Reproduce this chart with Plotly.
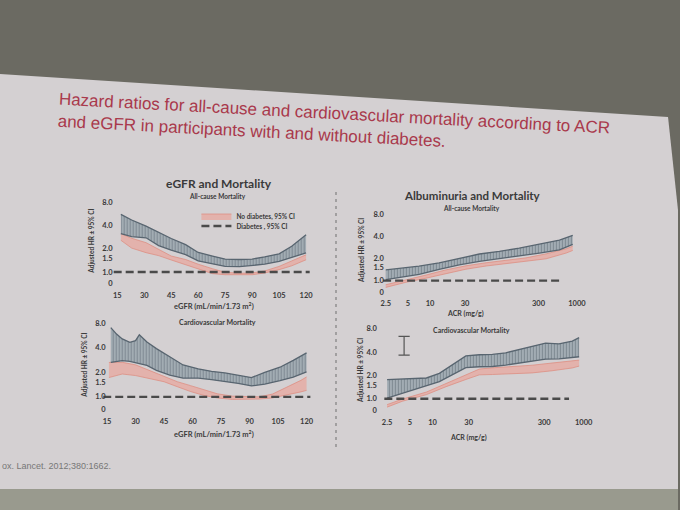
import math
import plotly.graph_objects as go

W, H = 680, 510

# ---- eGFR vs all-cause mortality (HR and 95% CI bounds)
egfr_all = [17, 23, 31, 38, 45, 53, 60, 68, 75, 83, 90, 97, 105, 112, 120]
diab_all_lo = [3.14, 2.88, 2.78, 2.2, 1.92, 1.68, 1.39, 1.28, 1.18, 1.17, 1.21, 1.26, 1.37, 1.53, 1.77]
diab_all_hi = [5.6, 4.73, 3.93, 3.26, 2.72, 2.26, 1.79, 1.61, 1.47, 1.45, 1.47, 1.57, 1.72, 2.16, 3.05]
nodiab_all_lo = [2.58, 2.04, 1.78, 1.63, 1.43, 1.25, 1.09, 0.95, 0.92, 0.91, 0.92, 0.97, 1.07, 1.2, 1.44]
nodiab_all_hi = [3.14, 2.74, 2.4, 1.99, 1.61, 1.45, 1.26, 1.1, 0.99, 0.96, 0.97, 1.03, 1.18, 1.39, 1.67]

# ---- eGFR vs cardiovascular mortality
egfr_cv_diab = [17, 20, 23, 27, 30, 32, 36, 41, 48, 55, 63, 70, 77, 84, 91, 98, 106, 113, 120]
diab_cv_lo = [2.63, 2.69, 2.77, 2.72, 2.62, 2.58, 2.42, 2.11, 1.84, 1.69, 1.69, 1.62, 1.55, 1.46, 1.36, 1.43, 1.58, 1.74, 2.02]
diab_cv_hi = [7.0, 5.85, 5.1, 4.64, 4.86, 5.73, 4.67, 3.88, 3.09, 2.45, 2.2, 2.05, 1.96, 1.85, 1.72, 1.99, 2.3, 2.79, 3.44]
egfr_cv_nodiab = [16, 23, 30, 37, 45, 52, 59, 66, 73, 81, 88, 95, 102, 109, 117, 120]
nodiab_cv_lo = [1.72, 1.9, 1.82, 1.67, 1.53, 1.33, 1.16, 1.04, 0.97, 0.93, 0.93, 0.94, 0.97, 1.04, 1.15, 1.2]
nodiab_cv_hi = [2.63, 2.64, 2.46, 2.11, 1.76, 1.53, 1.37, 1.22, 1.09, 1.02, 1.0, 1.0, 1.08, 1.29, 1.59, 1.75]

# ---- ACR vs all-cause mortality
acr_all_diab = [2.5, 3.8, 7.1, 13.3, 25, 47, 88, 164, 308, 578, 877]
diab_acr_all_lo = [1.03, 1.1, 1.22, 1.42, 1.64, 1.83, 1.97, 2.17, 2.37, 2.61, 3.1]
diab_acr_all_hi = [1.4, 1.47, 1.57, 1.74, 2.02, 2.3, 2.5, 2.76, 3.13, 3.55, 4.13]
acr_all_nodiab = [2.5, 4.7, 8.8, 16.4, 30.8, 57.8, 108, 203, 380, 713, 877]
nodiab_acr_all_lo = [0.81, 0.95, 1.08, 1.25, 1.43, 1.58, 1.7, 1.84, 1.98, 2.37, 2.57]
nodiab_acr_all_hi = [0.88, 1.02, 1.19, 1.4, 1.59, 1.75, 1.89, 2.04, 2.31, 2.71, 2.94]

# ---- ACR vs cardiovascular mortality
acr_cv_diab = [2.5, 3.6, 5.5, 8.3, 12.3, 18.4, 27.6, 41.6, 62, 93, 140, 209, 313, 470, 707, 870]
diab_acr_cv_lo = [1.02, 1.14, 1.31, 1.49, 1.66, 2.04, 2.51, 2.58, 2.6, 2.71, 2.87, 3.04, 3.23, 3.26, 3.35, 3.47]
diab_acr_cv_hi = [1.76, 1.78, 1.8, 1.85, 2.12, 2.74, 3.55, 3.68, 3.72, 3.9, 4.27, 4.75, 5.2, 5.09, 5.5, 6.1]
acr_cv_nodiab = [2.5, 4.0, 8.3, 15.1, 27.6, 41.6, 62, 115, 209, 380, 707, 870]
nodiab_acr_cv_lo = [0.78, 0.93, 1.13, 1.43, 1.77, 2.03, 2.05, 2.08, 2.15, 2.29, 2.49, 2.63]
nodiab_acr_cv_hi = [0.84, 0.99, 1.22, 1.58, 2.06, 2.41, 2.5, 2.59, 2.7, 2.88, 3.07, 3.14]

# single example CI bar drawn in the ACR / CV panel
ci_example_x = [4.2, 4.2]
ci_example_y = [3.64, 6.33]

# reference line HR = 1
ref_egfr_x = [13, 122]
ref_acr_x = [2.3, 640]
ref_y = [1, 1]

y_ticks = [0.7, 1, 1.5, 2, 4, 8]
y_tick_text = ["0", "1.0", "1.5", "2.0", "4.0", "8.0"]
egfr_ticks = [15, 30, 45, 60, 75, 90, 105, 120]
acr_ticks = [2.5, 5, 10, 30, 300, 1000]
acr_tick_text = ["2.5", "5", "10", "30", "300", "1000"]

FONT = "Lato"
DARK = "#3a3a3a"
GREY_EDGE = "#586570"
PINK_FILL = "rgba(236,158,146,0.6)"
PINK_EDGE = "rgba(222,138,126,0.9)"


def px(x):
    return x / W


def py(y):
    return 1 - y / H


def add_pink(fig, x, lo, hi, xa, ya, legend=False):
    fig.add_trace(go.Scatter(x=x, y=lo, mode="lines", xaxis=xa, yaxis=ya,
                             line=dict(color=PINK_EDGE, width=0.8),
                             showlegend=False, hoverinfo="skip"))
    fig.add_trace(go.Scatter(x=x, y=hi, mode="lines", xaxis=xa, yaxis=ya,
                             fill="tonexty", fillcolor=PINK_FILL,
                             line=dict(color=PINK_EDGE, width=0.8),
                             name="No diabetes, 95% CI", showlegend=legend,
                             legend="legend"))


def add_grey(fig, x, lo, hi, xa, ya):
    fig.add_trace(go.Scatter(x=x, y=lo, mode="lines", xaxis=xa, yaxis=ya,
                             line=dict(color=GREY_EDGE, width=1.3),
                             showlegend=False, hoverinfo="skip"))
    fig.add_trace(go.Scatter(x=x, y=hi, mode="lines", xaxis=xa, yaxis=ya,
                             fill="tonexty",
                             fillpattern=dict(shape="|", fgcolor="#55626d",
                                              bgcolor="#a9b2b9", size=3,
                                              solidity=0.45),
                             line=dict(color=GREY_EDGE, width=1.3),
                             showlegend=False))


def add_ref(fig, x, xa, ya, legend=False):
    fig.add_trace(go.Scatter(x=x, y=ref_y, mode="lines", xaxis=xa, yaxis=ya,
                             line=dict(color="#4a4a4a", width=2.4, dash="8px,4px"),
                             name="Diabetes , 95% CI", showlegend=legend,
                             legend="legend2"))


fig = go.Figure()

# top-left: eGFR all-cause
add_pink(fig, egfr_all, nodiab_all_lo, nodiab_all_hi, "x", "y", legend=True)
add_grey(fig, egfr_all, diab_all_lo, diab_all_hi, "x", "y")
add_ref(fig, ref_egfr_x, "x", "y", legend=True)

# bottom-left: eGFR cardiovascular
add_pink(fig, egfr_cv_nodiab, nodiab_cv_lo, nodiab_cv_hi, "x2", "y2")
add_grey(fig, egfr_cv_diab, diab_cv_lo, diab_cv_hi, "x2", "y2")
add_ref(fig, ref_egfr_x, "x2", "y2")

# top-right: ACR all-cause
add_pink(fig, acr_all_nodiab, nodiab_acr_all_lo, nodiab_acr_all_hi, "x3", "y3")
add_grey(fig, acr_all_diab, diab_acr_all_lo, diab_acr_all_hi, "x3", "y3")
add_ref(fig, ref_acr_x, "x3", "y3")

# bottom-right: ACR cardiovascular
add_pink(fig, acr_cv_nodiab, nodiab_acr_cv_lo, nodiab_acr_cv_hi, "x4", "y4")
add_grey(fig, acr_cv_diab, diab_acr_cv_lo, diab_acr_cv_hi, "x4", "y4")
add_ref(fig, ref_acr_x, "x4", "y4")
fig.add_trace(go.Scatter(x=ci_example_x, y=ci_example_y, mode="lines+markers",
                         xaxis="x4", yaxis="y4",
                         line=dict(color="#555", width=1.2),
                         marker=dict(symbol="line-ew", size=8,
                                     line=dict(color="#555", width=1.2)),
                         showlegend=False))

tickfont = dict(family=FONT, size=7.5, color=DARK, weight="bold")
common_x = dict(showgrid=False, zeroline=False, showline=False, ticks="",
                tickfont=tickfont)
common_y = dict(showgrid=False, zeroline=False, showline=False, ticks="",
                tickfont=tickfont, type="log", range=[math.log10(0.6), 1],
                tickvals=y_ticks, ticktext=y_tick_text, anchor="free")

fig.update_layout(
    xaxis=dict(common_x, domain=[px(105), px(316)], range=[8, 125],
               tickvals=egfr_ticks, anchor="y"),
    yaxis=dict(common_y, domain=[py(289), py(195)], position=px(113)),
    xaxis2=dict(common_x, domain=[px(94), px(317)], range=[8, 125],
                tickvals=egfr_ticks, anchor="y2"),
    yaxis2=dict(common_y, domain=[py(415), py(315)], position=px(106)),
    xaxis3=dict(common_x, domain=[px(376), px(586)], type="log",
                range=[0.25, 3.1], tickvals=acr_ticks, ticktext=acr_tick_text,
                anchor="y3"),
    yaxis3=dict(common_y, domain=[py(297), py(207)], position=px(385)),
    xaxis4=dict(common_x, domain=[px(377), px(593)], type="log",
                range=[0.25, 3.1], tickvals=acr_ticks, ticktext=acr_tick_text,
                anchor="y4"),
    yaxis4=dict(common_y, domain=[py(416), py(321)], position=px(378)),
)

# slide on a dark background (photo of a projected slide)
slide_path = "M 0 %f L %f %f L 1 %f L 1 %f L 0 %f Z" % (
    py(74), px(670), py(117), py(210), py(490), py(489))
shapes = [
    dict(type="path", xref="paper", yref="paper", layer="below",
         path=slide_path, fillcolor="#d4d0d2", line=dict(width=0)),
    dict(type="rect", xref="paper", yref="paper", layer="below",
         x0=0, x1=1, y0=0, y1=py(489), fillcolor="#999a8e", line=dict(width=0)),
    dict(type="line", xref="paper", yref="paper", x0=px(337), x1=px(337),
         y0=py(447), y1=py(190), line=dict(color="#6e6e6e", width=1, dash="3px,4px")),
]


def note(text, x, y, size, angle=0, weight="bold", color=DARK, family=FONT,
         xanchor="center"):
    return dict(text=text, x=px(x), y=py(y), xref="paper", yref="paper",
                showarrow=False, textangle=angle, xanchor=xanchor,
                yanchor="middle",
                font=dict(family=family, size=size, color=color, weight=weight))


annotations = [
    dict(text="Hazard ratios for all-cause and cardiovascular mortality according to ACR"
              "<br>and eGFR in participants with and without diabetes.",
         x=px(55), y=py(124), xref="paper", yref="paper", showarrow=False,
         xanchor="left", yanchor="middle", align="left", textangle=3.0,
         font=dict(family="Liberation Sans", size=17, color="#a9394c")),
    note("eGFR and Mortality", 220, 183, 12),
    note("All-cause Mortality", 218, 197, 6.5),
    note("Cardiovascular Mortality", 218, 322, 7),
    note("Albuminuria and Mortality", 474, 195, 11.5),
    note("All-cause Mortality", 473, 208, 6.5),
    note("Cardiovascular Mortality", 473, 330, 7),
    note("eGFR (mL/min/1.73 m<sup>2</sup>)", 215, 306, 7.5),
    note("eGFR (mL/min/1.73 m<sup>2</sup>)", 215, 434, 7.5),
    note("ACR (mg/g)", 467, 313, 7),
    note("ACR (mg/g)", 470, 437, 7),
    note("Adjusted HR ± 95% CI", 91, 241, 6.5, angle=-90),
    note("Adjusted HR ± 95% CI", 84, 365, 6.5, angle=-90),
    note("Adjusted HR ± 95% CI", 362, 250, 6.5, angle=-90),
    note("Adjusted HR ± 95% CI", 361, 370, 6.5, angle=-90),
    note("ox. Lancet. 2012;380:1662.", 0, 466, 9, weight="normal",
         color="#777777", family="Liberation Sans", xanchor="left"),
]

legend_style = dict(xanchor="left", yanchor="middle", bgcolor="rgba(0,0,0,0)",
                    itemwidth=30,
                    font=dict(family=FONT, size=6.5, color=DARK, weight="bold"))

fig.update_layout(
    width=W, height=H,
    margin=dict(l=0, r=0, t=0, b=0),
    paper_bgcolor="#6b6a62",
    plot_bgcolor="rgba(0,0,0,0)",
    shapes=shapes,
    annotations=annotations,
    legend=dict(legend_style, x=px(197), y=py(216)),
    legend2=dict(legend_style, x=px(197), y=py(226)),
)

fig.write_html("out.html", config={"displayModeBar": False},
               post_script="document.body.style.margin='0';")
